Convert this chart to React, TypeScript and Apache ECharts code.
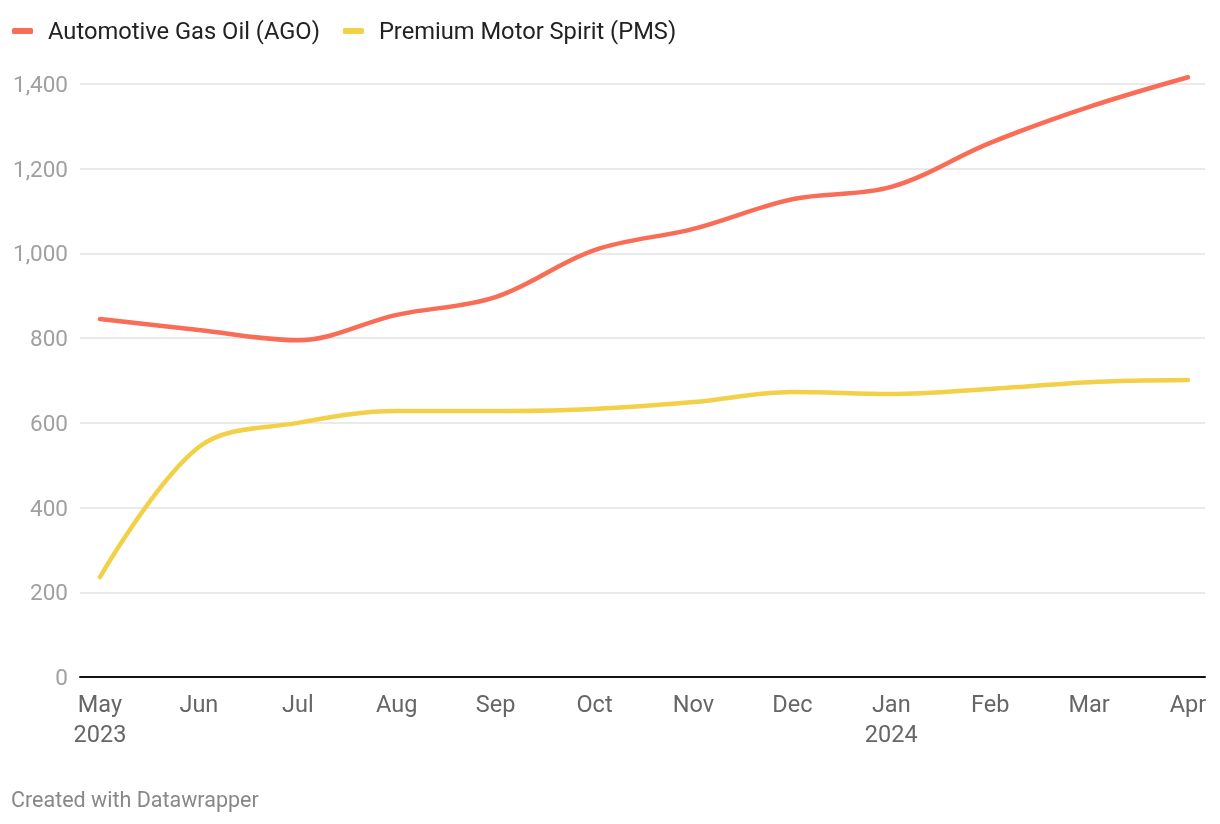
import React, { useEffect, useRef } from "react";
import * as echarts from "echarts";

const months = ["May", "Jun", "Jul", "Aug", "Sep", "Oct", "Nov", "Dec", "Jan", "Feb", "Mar", "Apr"];
const years: Record<number, string> = { 0: "2023", 8: "2024" };
const agoValues = [845, 819, 795, 855, 897, 1008, 1058, 1128, 1157, 1261, 1346, 1416];
const pmsValues = [236, 543, 600, 628, 628, 633, 649, 673, 668, 680, 696, 701];
const yTicks = [0, 200, 400, 600, 800, 1000, 1200, 1400];

const FONT = "Roboto, 'Noto Sans', sans-serif";

export default function App() {
  const ref = useRef<HTMLDivElement>(null);
  useEffect(() => {
    if (!ref.current) return;
    const chart = echarts.init(ref.current, undefined, { renderer: "svg" });
    const idx = months.map((_, i) => i);
    chart.setOption({
      animation: false,
      textStyle: { fontFamily: FONT },
      legend: {
        left: 7,
        top: 14,
        itemWidth: 21,
        itemHeight: 6,
        itemGap: 23,
        icon: "roundRect",
        textStyle: { fontSize: 23.7, color: "#222", fontFamily: FONT, padding: [0, 0, 0, 10] },
        data: ["Automotive Gas Oil (AGO)", "Premium Motor Spirit (PMS)"],
      },
      grid: { left: 80, right: 15, top: 84, bottom: 147, containLabel: false },
      xAxis: {
        type: "value",
        min: -0.202,
        max: 11.172,
        axisLine: { show: true, lineStyle: { color: "#111", width: 2 } },
        axisTick: { show: false },
        splitLine: { show: false },
        axisLabel: {
          customValues: idx,
          showMinLabel: true,
          showMaxLabel: true,
          margin: 12,
          fontSize: 23.5,
          lineHeight: 30,
          color: "#666",
          fontFamily: FONT,
          formatter: (v: number) => {
            const i = Math.round(v);
            return years[i] ? months[i] + "\n" + years[i] : months[i];
          },
        },
      },
      yAxis: {
        type: "value",
        min: 0,
        max: 1400,
        interval: 200,
        axisLine: { show: false },
        axisTick: { show: false },
        splitLine: { show: true, lineStyle: { color: "#e3e3e3", width: 1.5 } },
        axisLabel: {
          margin: 12,
          fontSize: 22.5,
          color: "#a0a0a0",
          fontFamily: FONT,
          formatter: (v: number) => (yTicks.includes(v) ? v.toLocaleString("en-US") : ""),
        },
      },
      series: [
        {
          name: "Automotive Gas Oil (AGO)",
          type: "line",
          data: agoValues.map((v, i) => [i, v]),
          smooth: 0.35,
          clip: false,
          showSymbol: false,
          symbol: "none",
          color: "#f96d56",
          lineStyle: { width: 4.5, color: "#f96d56", cap: "round" },
        },
        {
          name: "Premium Motor Spirit (PMS)",
          type: "line",
          data: pmsValues.map((v, i) => [i, v]),
          smooth: 0.35,
          clip: false,
          showSymbol: false,
          symbol: "none",
          color: "#f2d047",
          lineStyle: { width: 4.5, color: "#f2d047", cap: "round" },
        },
      ],
      graphic: [
        {
          type: "text",
          left: 11,
          top: 788,
          style: { text: "Created with Datawrapper", fontSize: 21.5, fill: "#888", fontFamily: FONT },
        },
      ],
    });
    return () => chart.dispose();
  }, []);
  return <div ref={ref} style={{ position: "fixed", left: 0, top: 0, width: 1220, height: 824 }} />;
}
